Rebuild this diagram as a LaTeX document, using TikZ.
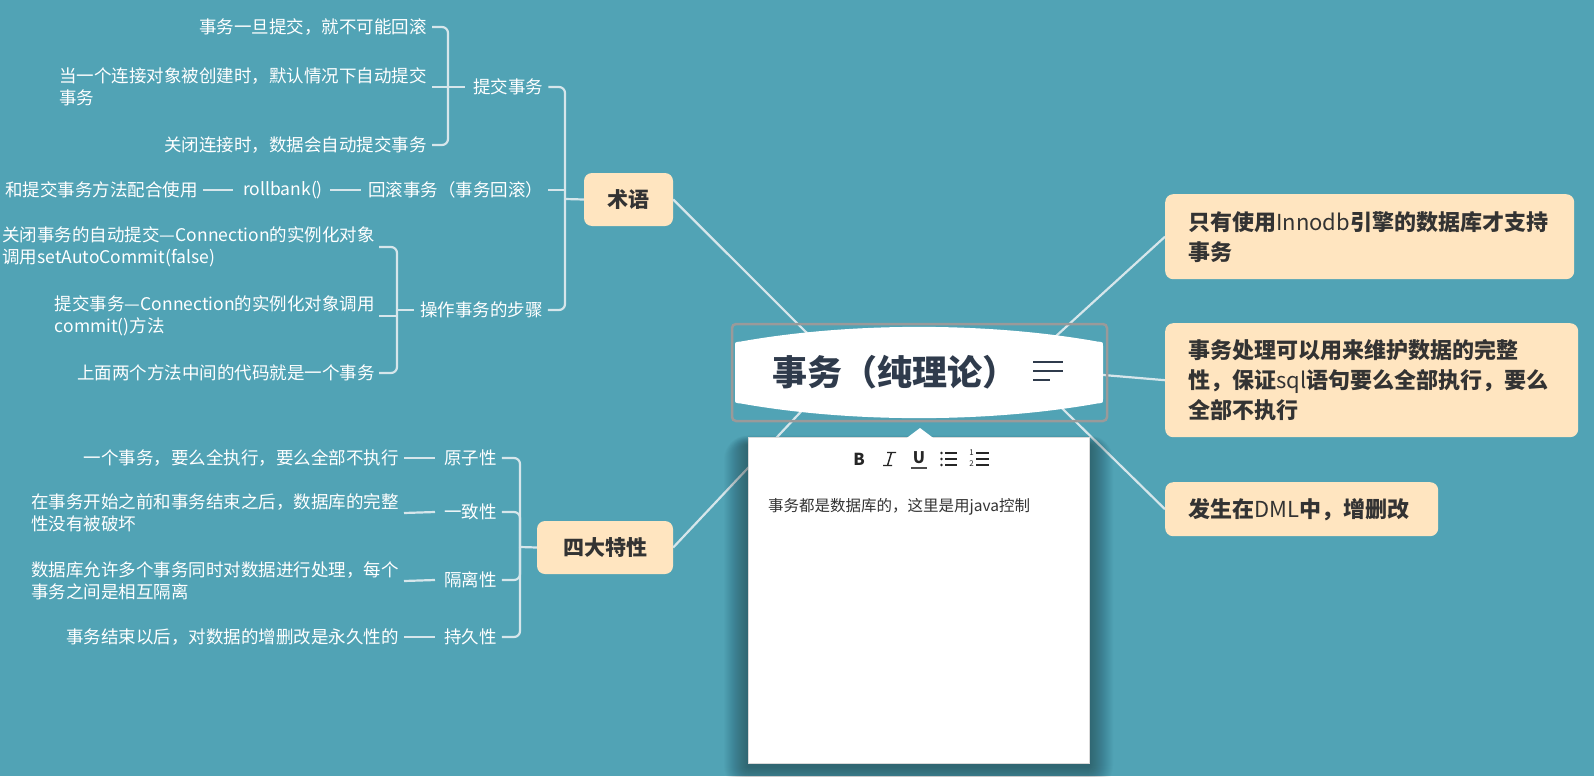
\documentclass[tikz,border=0pt]{standalone}
\usepackage{fontspec}
\setmainfont{Noto Sans CJK SC}
\definecolor{bg}{HTML}{51A3B5}
\definecolor{peach}{HTML}{FFE5C0}
\definecolor{linec}{HTML}{D6E6EB}
\definecolor{titlec}{HTML}{2F3B4C}
\definecolor{darktext}{HTML}{333333}
\definecolor{selgray}{HTML}{9A9A9A}
\begin{document}
\begin{tikzpicture}[x=1pt,y=-1pt,
  leaf/.style={text=white,font=\fontsize{17.5}{22}\selectfont,inner sep=0pt,align=left},
  topic/.style={fill=peach,rounded corners=8pt,text=darktext,font=\bfseries\fontsize{21}{26}\selectfont,inner sep=0pt},
  conn/.style={draw=linec,line width=2.2pt},
  brk/.style={draw=linec,line width=2.2pt,rounded corners=6pt},
  rbox/.style={fill=peach,rounded corners=8pt,text=darktext,font=\bfseries\fontsize{22}{30}\selectfont,align=left,inner xsep=23pt,inner ysep=0pt,anchor=north west},
  tool/.style={text=black!85,inner sep=0pt},
]
\useasboundingbox (0,0) rectangle (1594,776);
\fill[bg] (0,0) rectangle (1594,776);

% hubs inside the central topic
\coordinate (hubL) at (842,368);
\coordinate (hubR) at (1021,368);

% main topics
\node[topic,minimum width=89pt,minimum height=53pt] (shuyu) at (628.5,199.5) {术语};
\node[topic,minimum width=136pt,minimum height=53pt] (sida) at (605,547.5) {四大特性};

\node[rbox,text width=363pt,minimum height=85pt] (b1) at (1165,194) {只有使用{\mdseries Innodb}引擎的数据库才支持\\事务};
\node[rbox,text width=367pt,minimum height=114pt] (b2) at (1165,323) {事务处理可以用来维护数据的完整\\性，保证{\mdseries sql}语句要么全部执行，要么\\全部不执行};
\node[rbox,text width=227pt,minimum height=54pt] (b3) at (1165,482) {发生在{\mdseries DML}中，增删改};

% connectors from the central topic
\draw[conn] (hubL) -- (shuyu.east);
\draw[conn] (hubL) -- (sida.east);
\draw[conn] (hubR) -- (b1.west);
\draw[conn] (hubR) -- (b2.west);
\draw[conn] (hubR) -- (b3.west);

% central topic
\fill[white] (735,346) .. controls (735,342) .. (741,341.5)
  .. controls (850,322) and (988,322) .. (1097,341.5)
  .. controls (1103,342) .. (1103,346) -- (1103,399)
  .. controls (1103,403) .. (1097,403.5)
  .. controls (988,423) and (850,423) .. (741,403.5)
  .. controls (735,403) .. (735,399) -- cycle;
\node[font=\bfseries\fontsize{35}{40}\selectfont,text=titlec,anchor=west,inner sep=0pt] (title) at (772,372) {事务（纯理论）};
\draw[titlec,line width=2.8pt] (1033,362) -- (1063,362) (1033,371) -- (1063,371) (1033,380) -- (1050,380);
\draw[selgray,line width=2.5pt,rounded corners=4pt] (732,324) rectangle (1107,421);

% note popup
\foreach \i in {1,...,24}
  \fill[black,opacity=0.016,rounded corners=\i pt] (748-\i,445-0.4*\i) rectangle (1089+\i,763+\i+3);
\node[fill=white,draw=black!15,line width=0.8pt,minimum width=341pt,minimum height=326pt,anchor=north west,inner sep=0pt] (popup) at (748,437) {};
\fill[white] (907,437.8) -- (920,428) -- (933,437.8) -- cycle;
\node[tool,font=\bfseries\fontsize{16.5}{18}\selectfont] (tbB) at (859,459) {B};
\draw[black!85,line width=1.4pt] (887,452.5) -- (896,452.5) (883,465.5) -- (892,465.5) (891.5,452.5) -- (887.5,465.5);
\node[tool,font=\bfseries\fontsize{16}{18}\selectfont] (tbU) at (919,458) {U};
\draw[black!70,line width=1.3pt] (911,468) -- (927,468);
\foreach \yy in {453,459,465} {
  \fill[black!85] (941.5,\yy) circle (1.4pt);
  \draw[black!85,line width=1.3pt] (945,\yy) -- (957,\yy);
  \draw[black!85,line width=1.3pt] (976,\yy) -- (989,\yy);
}
\node[tool,font=\fontsize{8}{9}\selectfont] (n1) at (971.5,452.5) {1};
\node[tool,font=\fontsize{8}{9}\selectfont] (n2) at (971.5,464) {2};
\node[anchor=west,inner sep=0pt,font=\fontsize{15.5}{18}\selectfont,text=darktext] (note) at (768,507) {事务都是数据库的，这里是用java控制};

% ---- branch: 术语
\node[leaf,anchor=east] (t1) at (427,27) {事务一旦提交，就不可能回滚};
\node[leaf,anchor=east] (t2) at (427,87) {当一个连接对象被创建时，默认情况下自动提交\\事务};
\node[leaf,anchor=east] (t3) at (427,145) {关闭连接时，数据会自动提交事务};
\node[leaf,anchor=west] (p1) at (473,87) {提交事务};
\node[leaf,anchor=west] (p2) at (368,190) {回滚事务（事务回滚）};
\node[leaf] (rb) at (283,190) {rollbank()};
\node[leaf,anchor=east] (rc) at (198,190) {和提交事务方法配合使用};
\node[leaf,anchor=west] (p3) at (420,310) {操作事务的步骤};
\node[leaf,anchor=east] (t4) at (375,247) {关闭事务的自动提交—Connection的实例化对象\\调用setAutoCommit(false)};
\node[leaf,anchor=east] (t5) at (375,316) {提交事务—Connection的实例化对象调用\\commit()方法};
\node[leaf,anchor=east] (t6) at (375,373) {上面两个方法中间的代码就是一个事务};

\coordinate (s1) at (448,87);
\draw[brk] ([xshift=5pt]t1.east) -| (s1);
\draw[brk] ([xshift=5pt]t3.east) -| (s1);
\draw[conn] ([xshift=5pt]t2.east) -- ([xshift=-8pt]p1.west);

\coordinate (sS) at (565,199);
\draw[brk] ([xshift=5pt]p1.east) -| (sS);
\draw[brk] ([xshift=5pt]p3.east) -| (sS);
\draw[conn] ([xshift=5pt]p2.east) -- (p2.east -| sS);
\draw[conn] (sS) -- (shuyu.west);
\draw[conn] ([xshift=5pt]rc.east) -- ([xshift=-10pt]rb.west);
\draw[conn] ([xshift=7pt]rb.east) -- ([xshift=-7pt]p2.west);

\coordinate (s2) at (397,310);
\draw[brk] ([xshift=4pt]t4.east) -| (s2);
\draw[brk] ([xshift=4pt]t6.east) -| (s2);
\draw[conn] ([xshift=4pt]t5.east) -- (t5.east -| s2);
\draw[conn] (s2) -- ([xshift=-6pt]p3.west);

% ---- branch: 四大特性
\node[leaf,anchor=west] (c1) at (444,458) {原子性};
\node[leaf,anchor=west] (c2) at (444,512) {一致性};
\node[leaf,anchor=west] (c3) at (444,580) {隔离性};
\node[leaf,anchor=west] (c4) at (444,637) {持久性};
\node[leaf,anchor=east] (d1) at (399,458) {一个事务，要么全执行，要么全部不执行};
\node[leaf,anchor=east] (d2) at (399,513) {在事务开始之前和事务结束之后，数据库的完整\\性没有被破坏};
\node[leaf,anchor=east] (d3) at (399,581) {数据库允许多个事务同时对数据进行处理，每个\\事务之间是相互隔离};
\node[leaf,anchor=east] (d4) at (399,637) {事务结束以后，对数据的增删改是永久性的};

\coordinate (s3) at (520,547);
\draw[brk] ([xshift=5pt]c1.east) -| (s3);
\draw[brk] ([xshift=5pt]c2.east) -| (s3);
\draw[brk] ([xshift=5pt]c3.east) -| (s3);
\draw[brk] ([xshift=5pt]c4.east) -| (s3);
\draw[conn] (s3) -- (sida.west);
\draw[conn] ([xshift=5pt]d1.east) -- ([xshift=-9pt]c1.west);
\draw[conn] ([xshift=5pt]d2.east) -- ([xshift=-9pt]c2.west);
\draw[conn] ([xshift=5pt]d3.east) -- ([xshift=-9pt]c3.west);
\draw[conn] ([xshift=5pt]d4.east) -- ([xshift=-9pt]c4.west);
\end{tikzpicture}
\end{document}
